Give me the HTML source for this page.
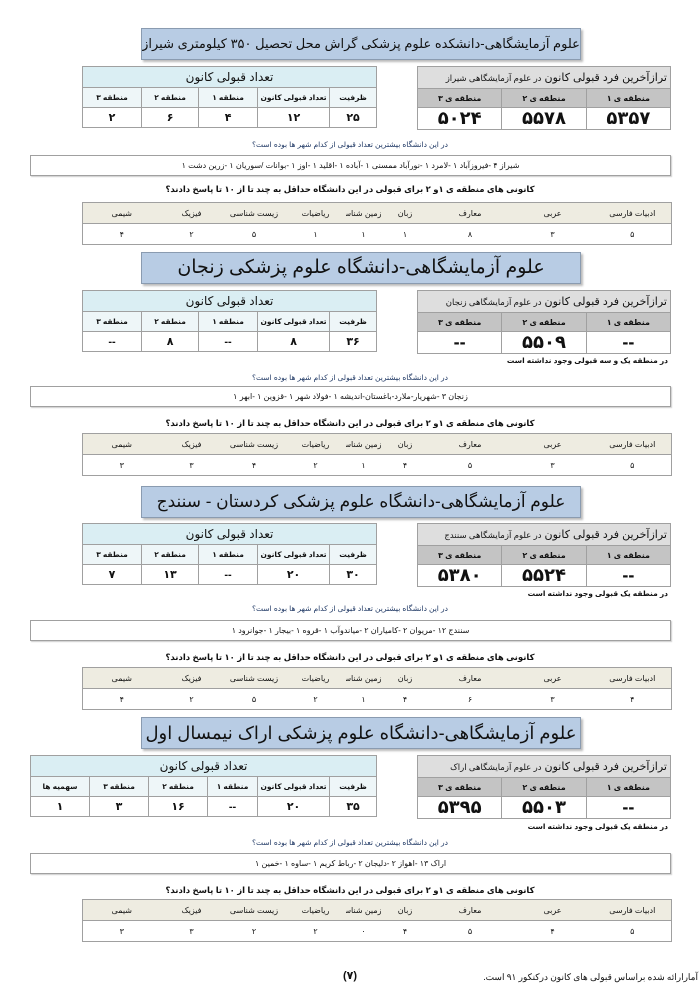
<!DOCTYPE html>
<html><head><meta charset="utf-8">
<style>
*{margin:0;padding:0;box-sizing:border-box}
body{width:700px;height:991px;background:#fff;position:relative;overflow:hidden;font-family:"Liberation Sans","DejaVu Sans",sans-serif;direction:rtl;color:#111}
.a{position:absolute}
.title{background:#b8cce4;border:1px solid #8a9bb0;box-shadow:2px 2px 2px #bbb;text-align:center;font-size:15px;line-height:30px;color:#111;white-space:nowrap;overflow:hidden}
table{border-collapse:collapse;table-layout:fixed;position:absolute;direction:rtl}
td{border:1px solid #a0a0a0;text-align:center;font-weight:bold;font-size:8px;padding:0;overflow:hidden;white-space:nowrap}
.lt .h td{background:#daeef3;font-size:12px;font-weight:normal;height:21px}
.lt .s td{background:#eef6f8;height:20px;font-size:7.5px}
.lt .v td{height:20px;font-size:11px}
.rt .h td{background:#dedede;font-size:11px;font-weight:normal;height:22px;text-align:right;padding-right:3px}
.rt .h td small{font-size:8.5px}
.rt .s td{background:#c4c4c4;height:19px;font-size:8px}
.rt .v td{height:20px;font-size:18px}
.st td{font-weight:normal;font-size:8px;border-left:none;border-right:none}
.st tr td:first-child{border-right:1px solid #a0a0a0}
.st tr td:last-child{border-left:1px solid #a0a0a0}
.st .s td{background:#eeece1;height:21px}
.st .v td{height:21px}
.q{font-size:7.5px;color:#1f3864;text-align:center;width:700px;left:0}
.q2{font-size:8.5px;font-weight:bold;text-align:center;width:700px;left:0}
.city{border:1px solid #a0a0a0;box-shadow:1px 1px 1px #ccc;font-size:8px;text-align:center;line-height:19px;left:30px;width:641px;height:21px}
.note{font-size:7.5px;font-weight:bold;right:32px}
</style></head><body>

<!-- Section 1 -->
<div class="a title" style="left:141px;top:28px;width:440px;height:32px;font-size:13px">علوم آزمایشگاهی-دانشکده علوم پزشکی گراش محل تحصیل ۳۵۰ کیلومتری شیراز</div>
<table class="lt" style="left:82px;top:66px;width:294px">
<colgroup><col style="width:47px"><col style="width:72px"><col style="width:59px"><col style="width:57px"><col style="width:59px"></colgroup>
<tr class="h"><td colspan="5">تعداد قبولی کانون</td></tr>
<tr class="s"><td>ظرفیت</td><td>تعداد قبولی کانون</td><td>منطقه ۱</td><td>منطقه ۲</td><td>منطقه ۳</td></tr>
<tr class="v"><td>۲۵</td><td>۱۲</td><td>۴</td><td>۶</td><td>۲</td></tr>
</table>
<table class="rt" style="left:417px;top:66px;width:254px">
<tr class="h"><td colspan="3">ترازآخرین فرد قبولی کانون <small>در علوم آزمایشگاهی شیراز</small></td></tr>
<tr class="s"><td>منطقه ی ۱</td><td>منطقه ی ۲</td><td>منطقه ی ۳</td></tr>
<tr class="v"><td>۵۳۵۷</td><td>۵۵۷۸</td><td>۵۰۲۴</td></tr>
</table>
<div class="a q" style="top:140px">در این دانشگاه بیشترین تعداد قبولی از کدام شهر ها بوده است؟</div>
<div class="a city" style="top:155px">شیراز ۴ -فیروزآباد ۱ -لامرد ۱ -نورآباد ممسنی ۱ -آباده ۱ -اقلید ۱ -اوز ۱ -بوانات /سوریان ۱ -زرین دشت ۱</div>
<div class="a q2" style="top:184px">کانونی های منطقه ی ۱و ۲ برای قبولی در این دانشگاه حداقل به چند تا از ۱۰ تا پاسخ دادند؟</div>
<table class="st" style="left:82px;top:202px;width:589px">
<colgroup><col style="width:78px"><col style="width:82px"><col style="width:83px"><col style="width:47px"><col style="width:36px"><col style="width:60px"><col style="width:63px"><col style="width:62px"><col style="width:78px"></colgroup>
<tr class="s"><td>ادبیات فارسی</td><td>عربی</td><td>معارف</td><td>زبان</td><td>زمین شناسی</td><td>ریاضیات</td><td>زیست شناسی</td><td>فیزیک</td><td>شیمی</td></tr>
<tr class="v"><td>۵</td><td>۳</td><td>۸</td><td>۱</td><td>۱</td><td>۱</td><td>۵</td><td>۲</td><td>۴</td></tr>
</table>

<!-- Section 2 -->
<div class="a title" style="left:141px;top:252px;width:440px;height:32px;font-size:19px">علوم آزمایشگاهی-دانشگاه علوم پزشکی زنجان</div>
<table class="lt" style="left:82px;top:290px;width:294px">
<colgroup><col style="width:47px"><col style="width:72px"><col style="width:59px"><col style="width:57px"><col style="width:59px"></colgroup>
<tr class="h"><td colspan="5">تعداد قبولی کانون</td></tr>
<tr class="s"><td>ظرفیت</td><td>تعداد قبولی کانون</td><td>منطقه ۱</td><td>منطقه ۲</td><td>منطقه ۳</td></tr>
<tr class="v"><td>۳۶</td><td>۸</td><td>--</td><td>۸</td><td>--</td></tr>
</table>
<table class="rt" style="left:417px;top:290px;width:254px">
<tr class="h"><td colspan="3">ترازآخرین فرد قبولی کانون <small>در علوم آزمایشگاهی زنجان</small></td></tr>
<tr class="s"><td>منطقه ی ۱</td><td>منطقه ی ۲</td><td>منطقه ی ۳</td></tr>
<tr class="v"><td>--</td><td>۵۵۰۹</td><td>--</td></tr>
</table>
<div class="a note" style="top:356px">در منطقه یک و سه قبولی وجود نداشته است</div>
<div class="a q" style="top:373px">در این دانشگاه بیشترین تعداد قبولی از کدام شهر ها بوده است؟</div>
<div class="a city" style="top:386px">زنجان ۳ -شهریار-ملارد-باغستان-اندیشه ۱ -فولاد شهر ۱ -قزوین ۱ -ابهر ۱</div>
<div class="a q2" style="top:418px">کانونی های منطقه ی ۱و ۲ برای قبولی در این دانشگاه حداقل به چند تا از ۱۰ تا پاسخ دادند؟</div>
<table class="st" style="left:82px;top:433px;width:589px">
<colgroup><col style="width:78px"><col style="width:82px"><col style="width:83px"><col style="width:47px"><col style="width:36px"><col style="width:60px"><col style="width:63px"><col style="width:62px"><col style="width:78px"></colgroup>
<tr class="s"><td>ادبیات فارسی</td><td>عربی</td><td>معارف</td><td>زبان</td><td>زمین شناسی</td><td>ریاضیات</td><td>زیست شناسی</td><td>فیزیک</td><td>شیمی</td></tr>
<tr class="v"><td>۵</td><td>۳</td><td>۵</td><td>۴</td><td>۱</td><td>۲</td><td>۴</td><td>۳</td><td>۳</td></tr>
</table>

<!-- Section 3 -->
<div class="a title" style="left:141px;top:486px;width:440px;height:32px;font-size:17px">علوم آزمایشگاهی-دانشگاه علوم پزشکی کردستان - سنندج</div>
<table class="lt" style="left:82px;top:523px;width:294px">
<colgroup><col style="width:47px"><col style="width:72px"><col style="width:59px"><col style="width:57px"><col style="width:59px"></colgroup>
<tr class="h"><td colspan="5">تعداد قبولی کانون</td></tr>
<tr class="s"><td>ظرفیت</td><td>تعداد قبولی کانون</td><td>منطقه ۱</td><td>منطقه ۲</td><td>منطقه ۳</td></tr>
<tr class="v"><td>۳۰</td><td>۲۰</td><td>--</td><td>۱۳</td><td>۷</td></tr>
</table>
<table class="rt" style="left:417px;top:523px;width:254px">
<tr class="h"><td colspan="3">ترازآخرین فرد قبولی کانون <small>در علوم آزمایشگاهی سنندج</small></td></tr>
<tr class="s"><td>منطقه ی ۱</td><td>منطقه ی ۲</td><td>منطقه ی ۳</td></tr>
<tr class="v"><td>--</td><td>۵۵۲۴</td><td>۵۳۸۰</td></tr>
</table>
<div class="a note" style="top:589px">در منطقه یک قبولی وجود نداشته است</div>
<div class="a q" style="top:604px">در این دانشگاه بیشترین تعداد قبولی از کدام شهر ها بوده است؟</div>
<div class="a city" style="top:620px">سنندج ۱۲ -مریوان ۲ -کامیاران ۲ -میاندوآب ۱ -قروه ۱ -بیجار ۱ -جوانرود ۱</div>
<div class="a q2" style="top:652px">کانونی های منطقه ی ۱و ۲ برای قبولی در این دانشگاه حداقل به چند تا از ۱۰ تا پاسخ دادند؟</div>
<table class="st" style="left:82px;top:667px;width:589px">
<colgroup><col style="width:78px"><col style="width:82px"><col style="width:83px"><col style="width:47px"><col style="width:36px"><col style="width:60px"><col style="width:63px"><col style="width:62px"><col style="width:78px"></colgroup>
<tr class="s"><td>ادبیات فارسی</td><td>عربی</td><td>معارف</td><td>زبان</td><td>زمین شناسی</td><td>ریاضیات</td><td>زیست شناسی</td><td>فیزیک</td><td>شیمی</td></tr>
<tr class="v"><td>۴</td><td>۳</td><td>۶</td><td>۴</td><td>۱</td><td>۲</td><td>۵</td><td>۲</td><td>۴</td></tr>
</table>

<!-- Section 4 -->
<div class="a title" style="left:141px;top:717px;width:440px;height:32px;font-size:18px">علوم آزمایشگاهی-دانشگاه علوم پزشکی اراک نیمسال اول</div>
<table class="lt" style="left:30px;top:755px;width:346px">
<colgroup><col style="width:47px"><col style="width:72px"><col style="width:50px"><col style="width:59px"><col style="width:59px"><col style="width:59px"></colgroup>
<tr class="h"><td colspan="6">تعداد قبولی کانون</td></tr>
<tr class="s"><td>ظرفیت</td><td>تعداد قبولی کانون</td><td>منطقه ۱</td><td>منطقه ۲</td><td>منطقه ۳</td><td>سهمیه ها</td></tr>
<tr class="v"><td>۳۵</td><td>۲۰</td><td>--</td><td>۱۶</td><td>۳</td><td>۱</td></tr>
</table>
<table class="rt" style="left:417px;top:755px;width:254px">
<tr class="h"><td colspan="3">ترازآخرین فرد قبولی کانون <small>در علوم آزمایشگاهی اراک</small></td></tr>
<tr class="s"><td>منطقه ی ۱</td><td>منطقه ی ۲</td><td>منطقه ی ۳</td></tr>
<tr class="v"><td>--</td><td>۵۵۰۳</td><td>۵۳۹۵</td></tr>
</table>
<div class="a note" style="top:822px">در منطقه یک قبولی وجود نداشته است</div>
<div class="a q" style="top:838px">در این دانشگاه بیشترین تعداد قبولی از کدام شهر ها بوده است؟</div>
<div class="a city" style="top:853px">اراک ۱۳ -اهواز ۲ -دلیجان ۲ -رباط کریم ۱ -ساوه ۱ -خمین ۱</div>
<div class="a q2" style="top:885px">کانونی های منطقه ی ۱و ۲ برای قبولی در این دانشگاه حداقل به چند تا از ۱۰ تا پاسخ دادند؟</div>
<table class="st" style="left:82px;top:899px;width:589px">
<colgroup><col style="width:78px"><col style="width:82px"><col style="width:83px"><col style="width:47px"><col style="width:36px"><col style="width:60px"><col style="width:63px"><col style="width:62px"><col style="width:78px"></colgroup>
<tr class="s"><td>ادبیات فارسی</td><td>عربی</td><td>معارف</td><td>زبان</td><td>زمین شناسی</td><td>ریاضیات</td><td>زیست شناسی</td><td>فیزیک</td><td>شیمی</td></tr>
<tr class="v"><td>۵</td><td>۴</td><td>۵</td><td>۴</td><td>۰</td><td>۲</td><td>۲</td><td>۳</td><td>۳</td></tr>
</table>

<div class="a" style="left:335px;top:969px;width:30px;text-align:center;font-size:11px;font-weight:bold">(۷)</div>
<div class="a" style="right:2px;top:972px;font-size:9px;font-family:'Liberation Serif','DejaVu Serif',serif">آمارارائه شده براساس قبولی های کانون درکنکور ۹۱ است.</div>
</body></html>
